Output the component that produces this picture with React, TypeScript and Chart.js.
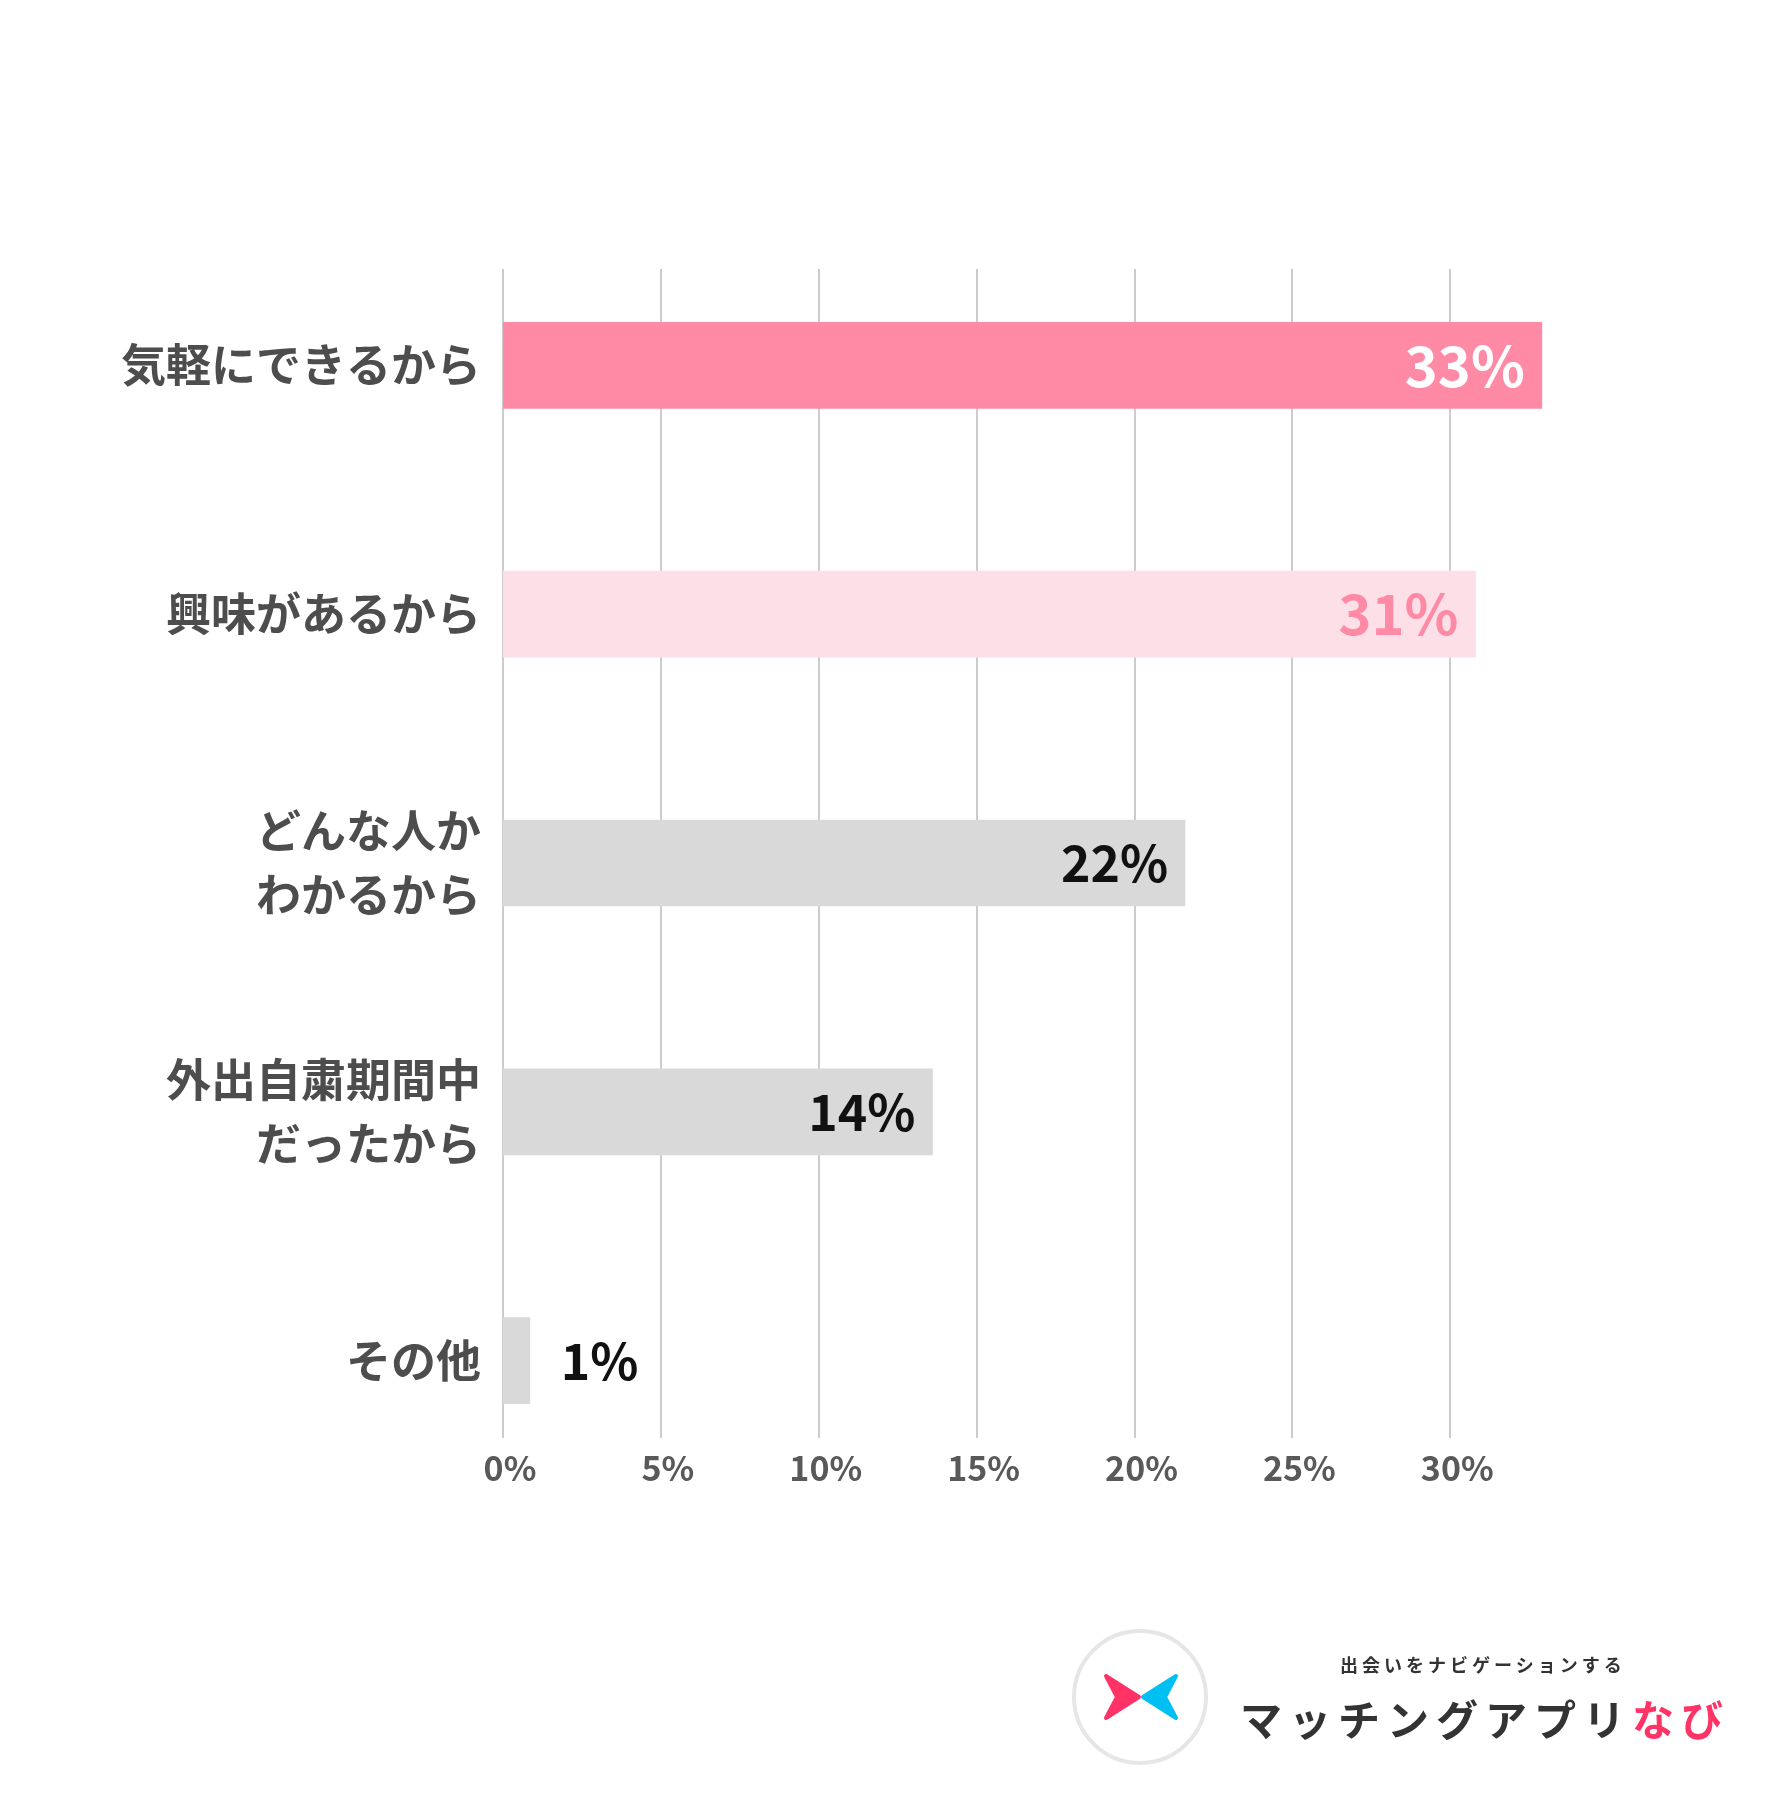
import React, { useEffect, useRef } from "react";
import { Chart, registerables } from "chart.js";

Chart.register(...registerables);

const FONT = '"Noto Sans CJK JP", "Noto Sans", sans-serif';

// ---- data ----
const categories: (string | string[])[] = [
  "気軽にできるから",
  "興味があるから",
  ["どんな人か", "わかるから"],
  ["外出自粛期間中", "だったから"],
  "その他",
];
const percentValues = [32.9, 30.8, 21.6, 13.6, 0.85];
const valueLabels = ["33%", "31%", "22%", "14%", "1%"];
const xMax = 33;
const xStep = 5;

// ---- styles ----
const barColors = ["#ff8aa5", "#fde0e7", "#d9d9d9", "#d9d9d9", "#d9d9d9"];
const labelColors = ["#ffffff", "#ff8aa5", "#111111", "#111111", "#111111"];
const labelSizes = [56, 56, 50, 50, 50];

const insetGridPlugin = {
  id: "insetGrid",
  beforeDatasetsDraw(chart: any) {
    const { ctx, chartArea, scales } = chart;
    const x = scales.x;
    ctx.save();
    ctx.strokeStyle = "#cccccc";
    ctx.lineWidth = 2;
    x.ticks.forEach((t: any) => {
      const px = Math.round(x.getPixelForValue(t.value));
      ctx.beginPath();
      ctx.moveTo(px, chartArea.top + 28);
      ctx.lineTo(px, chartArea.bottom - 47);
      ctx.stroke();
    });
    ctx.restore();
  },
};

const valueLabelPlugin = {
  id: "valueLabels",
  afterDatasetsDraw(chart: any) {
    const { ctx } = chart;
    const meta = chart.getDatasetMeta(0);
    ctx.save();
    ctx.textBaseline = "middle";
    meta.data.forEach((bar: any, i: number) => {
      const inside = percentValues[i] > 5;
      ctx.font = `bold ${labelSizes[i]}px ${FONT}`;
      ctx.fillStyle = labelColors[i];
      ctx.textAlign = inside ? "right" : "left";
      ctx.fillText(valueLabels[i], inside ? bar.x - 17 : bar.x + 31, bar.y);
    });
    ctx.restore();
  },
};

function BarChart() {
  const ref = useRef<HTMLCanvasElement | null>(null);
  useEffect(() => {
    if (!ref.current) return;
    const chart = new Chart(ref.current, {
      type: "bar",
      data: {
        labels: categories as any,
        datasets: [
          {
            data: percentValues,
            backgroundColor: barColors,
            borderWidth: 0,
            barThickness: 86,
          },
        ],
      },
      options: {
        indexAxis: "y",
        responsive: false,
        animation: false,
        layout: { padding: { top: 241, right: 223, bottom: 0, left: 0 } },
        plugins: {
          legend: { display: false },
          tooltip: { enabled: false },
        },
        scales: {
          x: {
            type: "linear",
            min: 0,
            max: xMax,
            grid: { display: false, drawTicks: false },
            border: { display: false },
            ticks: {
              stepSize: xStep,
              includeBounds: false,
              callback: (v: any) => `${v}%`,
              color: "#595959",
              font: { family: FONT, size: 34, weight: "bold" },
              mirror: true,
              padding: -3,
              labelOffset: 7,
              maxRotation: 0,
              autoSkip: false,
            },
            afterFit: (s: any) => {
              s.height = 315;
            },
          },
          y: {
            grid: { display: false, drawTicks: false },
            border: { display: false },
            ticks: {
              color: "#4d4d4d",
              font: { family: FONT, size: 45, weight: "bold", lineHeight: 1.43 },
              padding: 22,
            },
            afterFit: (s: any) => {
              s.width = 503;
            },
          },
        },
      } as any,
      plugins: [insetGridPlugin, valueLabelPlugin],
    });
    return () => chart.destroy();
  }, []);
  return (
    <canvas
      ref={ref}
      width={1768}
      height={1800}
      style={{ position: "absolute", left: 0, top: 0, width: 1768, height: 1800, display: "block" }}
    />
  );
}

function Logo() {
  return (
    <>
      <svg
        width={138}
        height={138}
        viewBox="0 0 138 138"
        style={{ position: "absolute", left: 1071, top: 1628 }}
      >
        <circle cx={69} cy={69} r={66} fill="#ffffff" stroke="#e6e6e6" strokeWidth={4} />
        <path d="M35 48 L68 69 L35 90 L46 69 Z" fill="#ff3366" stroke="#ff3366" strokeWidth={4} strokeLinejoin="round" />
        <path d="M105 48 L72 69 L105 90 L94 69 Z" fill="#00bff3" stroke="#00bff3" strokeWidth={4} strokeLinejoin="round" />
      </svg>
      <div
        style={{
          position: "absolute",
          left: 1340,
          top: 1655,
          fontFamily: FONT,
          fontSize: 18,
          lineHeight: "18px",
          fontWeight: 700,
          letterSpacing: "4px",
          color: "#333333",
          whiteSpace: "nowrap",
        }}
      >
        出会いをナビゲーションする
      </div>
      <div
        style={{
          position: "absolute",
          left: 1240,
          top: 1697,
          fontFamily: FONT,
          fontSize: 42,
          lineHeight: "42px",
          fontWeight: 700,
          letterSpacing: "7px",
          color: "#333333",
          whiteSpace: "nowrap",
        }}
      >
        マッチングアプリ<span style={{ color: "#ff3366" }}>なび</span>
      </div>
    </>
  );
}

export default function App() {
  useEffect(() => {
    document.body.style.margin = "0";
  }, []);
  return (
    <div style={{ position: "relative", width: 1768, height: 1800, background: "#ffffff", overflow: "hidden" }}>
      <BarChart />
      <Logo />
    </div>
  );
}
